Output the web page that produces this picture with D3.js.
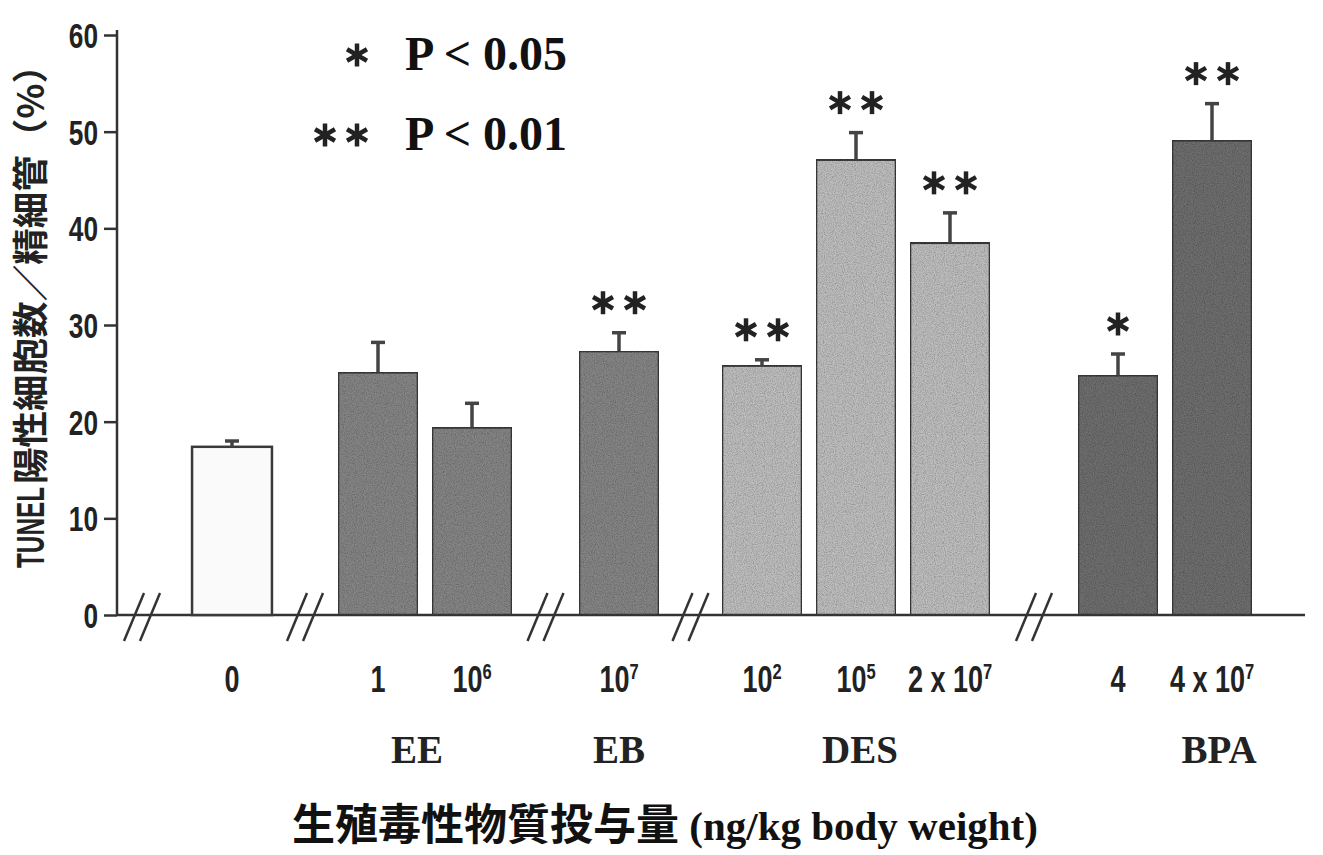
<!DOCTYPE html>
<html>
<head>
<meta charset="utf-8">
<script src="https://cdn.jsdelivr.net/npm/d3@7"></script>
<style>
  html, body { margin: 0; padding: 0; background: #fff; }
  svg { display: block; }
</style>
</head>
<body>
<svg id="chart" width="1323" height="855"></svg>
<script>
// --- data ---
const groups = ["Control", "EE", "EB", "DES", "BPA"];
const barGroup = ["Control", "EE", "EE", "EB", "DES", "DES", "DES", "BPA", "BPA"];
const doseBase = ["0", "1", "10", "10", "10", "10", "2 x 10", "4", "4 x 10"];
const doseExp = ["", "", "6", "7", "2", "5", "7", "", "7"];
const means = [17.4, 25.1, 19.4, 27.3, 25.8, 47.1, 38.5, 24.8, 49.1];
const errors = [0.6, 3.1, 2.5, 1.9, 0.6, 2.8, 3.1, 2.2, 3.8];
const marks = ["", "", "", "**", "**", "**", "**", "*", "**"];
const yTicks = [0, 10, 20, 30, 40, 50, 60];
const legendMarks = ["*", "**"];
const legendText = ["P < 0.05", "P < 0.01"];

const fills = { Control: "#fafafa", EE: "#858585", EB: "#858585", DES: "#bebebe", BPA: "#6e6e6e" };
// extra space opened at each axis break, before each group
const breakGap = { Control: 0, EE: 52, EB: 105, DES: 154, BPA: 228 };

const sans = '"Liberation Sans", Arial, sans-serif';
const serif = '"Liberation Serif", "Times New Roman", serif';
const cjk = '"Noto Sans CJK JP", "Noto Sans CJK SC", sans-serif';
const squeeze = 0.75;   // condensed look for the sans labels

const svg = d3.select("#chart");
const axisX = 117;
const y = d3.scaleLinear().domain([0, 60]).range([615, 35]);

// speckle texture on the bars
const defs = svg.append("defs");
const f = defs.append("filter").attr("id", "speckle")
    .attr("x", 0).attr("y", 0).attr("width", 1).attr("height", 1);
f.append("feTurbulence").attr("type", "fractalNoise").attr("baseFrequency", 0.9)
    .attr("numOctaves", 2).attr("seed", 4).attr("result", "noise");
f.append("feColorMatrix").attr("in", "noise").attr("type", "matrix")
    .attr("values", "0 0 0 0 0  0 0 0 0 0  0 0 0 0 0  0.9 0 0 0 -0.32").attr("result", "dots");
f.append("feComposite").attr("in", "dots").attr("in2", "SourceGraphic").attr("operator", "in").attr("result", "spk");
const fm = f.append("feMerge");
fm.append("feMergeNode").attr("in", "SourceGraphic");
fm.append("feMergeNode").attr("in", "spk");

const xBand = d3.scaleBand()
    .domain(d3.range(means.length))
    .range([185, 185 + 94 * means.length])
    .paddingInner(0.15)
    .paddingOuter(0.075);
const bx = i => xBand(i) + breakGap[barGroup[i]];
const bw = xBand.bandwidth();

// baseline
svg.append("line")
    .attr("x1", axisX).attr("x2", 1305)
    .attr("y1", y(0)).attr("y2", y(0))
    .attr("stroke", "#333").attr("stroke-width", 2.5);

// y axis
const yAxis = svg.append("g")
    .attr("transform", `translate(${axisX},0)`)
    .call(d3.axisLeft(y).tickValues(yTicks).tickSize(13).tickSizeOuter(0).tickPadding(6));
yAxis.select(".domain").remove();
yAxis.append("line")
    .attr("y1", y(60) - 5).attr("y2", y(0))
    .attr("stroke", "#333").attr("stroke-width", 2.5);
yAxis.selectAll(".tick line").attr("stroke", "#333").attr("stroke-width", 2.5);
yAxis.selectAll(".tick text")
    .attr("fill", "#222")
    .attr("x", -19 / squeeze)
    .attr("dy", "0.36em")
    .attr("transform", `scale(${squeeze},1)`)
    .style("font-family", sans)
    .style("font-weight", "bold")
    .style("font-size", "35px");

// bars
svg.append("g").selectAll("rect")
    .data(means)
    .join("rect")
    .attr("x", (d, i) => bx(i))
    .attr("y", d => y(d))
    .attr("width", bw)
    .attr("height", d => y(0) - y(d))
    .attr("fill", (d, i) => fills[barGroup[i]])
    .attr("stroke", "#3a3a3a")
    .attr("stroke-width", 2.5)
    .attr("filter", (d, i) => barGroup[i] === "Control" ? null : "url(#speckle)");

// error bars (upper only)
const err = svg.append("g").attr("stroke", "#444").attr("stroke-width", 3.5);
means.forEach((m, i) => {
    const cx = bx(i) + bw / 2;
    err.append("line").attr("x1", cx).attr("x2", cx).attr("y1", y(m)).attr("y2", y(m + errors[i]));
    err.append("line").attr("x1", cx - 7).attr("x2", cx + 7).attr("y1", y(m + errors[i])).attr("y2", y(m + errors[i]));
});

// six-armed asterisk drawn as three crossing strokes
function asterisk(g, cx, cy) {
    [90, 30, 150].forEach(a => {
        const r = 11.5, t = a * Math.PI / 180;
        g.append("line")
            .attr("x1", cx - r * Math.cos(t)).attr("y1", cy - r * Math.sin(t))
            .attr("x2", cx + r * Math.cos(t)).attr("y2", cy + r * Math.sin(t));
    });
}
function markAt(g, str, cx, cy) {
    const n = str.length;
    for (let k = 0; k < n; k++) asterisk(g, cx + (k - (n - 1) / 2) * 32, cy);
}

// significance marks
const sig = svg.append("g").attr("stroke", "#222").attr("stroke-width", 4.5);
marks.forEach((m, i) => {
    if (m) markAt(sig, m, bx(i) + bw / 2, y(means[i] + errors[i]) - 30);
});

// axis breaks
const breakXs = [axisX + 25];
groups.slice(1).forEach(g => {
    const first = barGroup.indexOf(g);
    breakXs.push((bx(first - 1) + bw + bx(first)) / 2);
});
const brk = svg.append("g").attr("stroke", "#333").attr("stroke-width", 2.5);
breakXs.forEach(cx => {
    [-8, 8].forEach(dx => {
        brk.append("line")
            .attr("x1", cx + dx - 10).attr("y1", y(0) + 26)
            .attr("x2", cx + dx + 10).attr("y2", y(0) - 22);
    });
});

// dose labels
const doses = svg.append("g").selectAll("text")
    .data(doseBase)
    .join("text")
    .attr("transform", (d, i) => `translate(${bx(i) + bw / 2},692) scale(${squeeze},1)`)
    .attr("text-anchor", "middle")
    .attr("fill", "#222")
    .style("font-family", sans)
    .style("font-weight", "bold")
    .style("font-size", "36px");
doses.append("tspan").text(d => d);
doses.append("tspan")
    .attr("dy", -13)
    .style("font-size", "22px")
    .text((d, i) => doseExp[i]);

// group labels
const groupShift = { EE: -8, EB: 0, DES: 4, BPA: 54 };
svg.append("g").selectAll("text")
    .data(groups.slice(1))
    .join("text")
    .attr("x", g => {
        const idx = d3.range(barGroup.length).filter(i => barGroup[i] === g);
        return d3.mean(idx, i => bx(i) + bw / 2) + groupShift[g];
    })
    .attr("y", 763)
    .attr("text-anchor", "middle")
    .attr("fill", "#222")
    .style("font-family", serif)
    .style("font-weight", "bold")
    .style("font-size", "39px")
    .text(g => g);

// legend
const legend = svg.append("g");
const legStars = legend.append("g").attr("stroke", "#222").attr("stroke-width", 4.5);
legendMarks.forEach((m, i) => {
    const cy = 55 + i * 80;
    markAt(legStars, m, 357 - (m.length - 1) * 16, cy);
    legend.append("text")
        .attr("x", 405).attr("y", cy + 15)
        .style("font-family", serif)
        .style("font-weight", "bold")
        .style("font-size", "48px")
        .attr("fill", "#111")
        .text(legendText[i]);
});

// y title (two pieces, fitted to the reference extents)
svg.append("text")
    .attr("transform", "translate(44,568) rotate(-90)")
    .attr("textLength", 81).attr("lengthAdjust", "spacingAndGlyphs")
    .attr("fill", "#222")
    .style("font-family", sans).style("font-weight", "bold").style("font-size", "39px")
    .text("TUNEL");
svg.append("text")
    .attr("transform", "translate(44,484) rotate(-90)")
    .attr("textLength", 437).attr("lengthAdjust", "spacingAndGlyphs")
    .attr("fill", "#222")
    .style("font-family", cjk).style("font-weight", "bold").style("font-size", "36px")
    .text("陽性細胞数／精細管（%）");

// x title
const xt = svg.append("text")
    .attr("x", 665).attr("y", 840)
    .attr("text-anchor", "middle")
    .attr("fill", "#111");
xt.append("tspan").style("font-family", cjk).style("font-weight", "bold").style("font-size", "43px").text("生殖毒性物質投与量");
xt.append("tspan").style("font-family", serif).style("font-weight", "bold").style("font-size", "41px").text(" (ng/kg body weight)");
</script>
</body>
</html>
